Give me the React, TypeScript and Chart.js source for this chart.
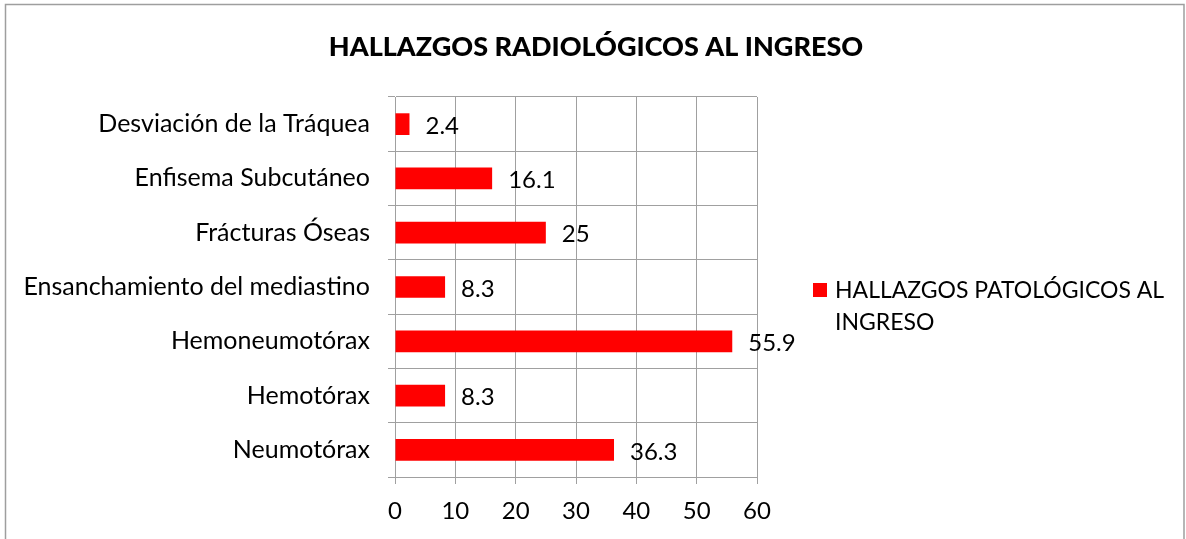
import React, { useEffect, useRef } from "react";
import { Chart, registerables } from "chart.js";

Chart.register(...registerables);

const chartTitle = "HALLAZGOS RADIOLÓGICOS AL INGRESO";
const seriesName = ["HALLAZGOS PATOLÓGICOS AL", "INGRESO"];
const categories = [
  "Desviación de la Tráquea",
  "Enfisema Subcutáneo",
  "Frácturas Óseas",
  "Ensanchamiento del mediastino",
  "Hemoneumotórax",
  "Hemotórax",
  "Neumotórax",
];
const values = [2.4, 16.1, 25, 8.3, 55.9, 8.3, 36.3];
const xMin = 0;
const xMax = 60;
const xStep = 10;

const FONT = "Lato";
const FS = 24;
const BAR_COLOR = "#FF0000";
const GRID = "#A0A0A0";

const decor = {
  id: "decor",
  beforeDraw(chart: any) {
    const ctx = chart.ctx;
    ctx.save();
    ctx.fillStyle = "#fff";
    ctx.fillRect(0, 0, chart.width, chart.height);
    ctx.strokeStyle = "#9E9E9E";
    ctx.lineWidth = 1.5;
    ctx.strokeRect(5.5, 4.5, 1178.5, 600);
    ctx.restore();
  },
  afterDatasetsDraw(chart: any) {
    const ctx = chart.ctx;
    const meta = chart.getDatasetMeta(0);
    ctx.save();
    ctx.fillStyle = "#000";
    ctx.font = `${FS}px ${FONT}`;
    ctx.textAlign = "left";
    ctx.textBaseline = "middle";
    meta.data.forEach((bar: any, i: number) => {
      ctx.fillText(String(values[i]), bar.x + 16, bar.y + 2);
    });
    ctx.restore();
  },
  afterDraw(chart: any) {
    const ctx = chart.ctx;
    ctx.save();
    ctx.fillStyle = "#000";
    ctx.font = `900 27px ${FONT}`;
    ctx.textAlign = "center";
    ctx.textBaseline = "middle";
    ctx.fillText(chartTitle, 596, 47);
    // legend
    ctx.fillStyle = BAR_COLOR;
    ctx.fillRect(813, 283, 14, 14);
    ctx.fillStyle = "#000";
    ctx.font = `23px ${FONT}`;
    ctx.textAlign = "left";
    ctx.fillText(seriesName[0], 835, 291);
    ctx.fillText(seriesName[1], 835, 323);
    ctx.restore();
  },
};

export default function App() {
  const ref = useRef<HTMLCanvasElement | null>(null);
  useEffect(() => {
    if (!ref.current) return;
    const chart = new Chart(ref.current, {
      type: "bar",
      data: {
        labels: categories,
        datasets: [
          {
            label: seriesName.join(" "),
            data: values,
            backgroundColor: BAR_COLOR,
            borderWidth: 0,
            barPercentage: 0.4,
            categoryPercentage: 1,
          },
        ],
      },
      options: {
        indexAxis: "y",
        animation: false,
        responsive: false,
        devicePixelRatio: 1,
        layout: { padding: { top: 97, right: 429, bottom: 0, left: 0 } },
        plugins: {
          legend: { display: false },
          title: { display: false },
          tooltip: { enabled: false },
        },
        scales: {
          x: {
            min: xMin,
            max: xMax,
            ticks: {
              stepSize: xStep,
              color: "#000",
              font: { family: FONT, size: FS },
              padding: 13,
            },
            grid: { color: GRID, lineWidth: 1, tickLength: 7 },
            border: { color: GRID, width: 1 },
            afterFit: (s: any) => {
              s.height = 62;
            },
          },
          y: {
            ticks: {
              color: "#000",
              font: { family: FONT, size: 25 },
              padding: 18,
            },
            grid: { color: GRID, lineWidth: 1, tickLength: 7, offset: true },
            border: { color: GRID, width: 1 },
            afterFit: (s: any) => {
              s.width = 395;
            },
          },
        },
      },
      plugins: [decor],
    });
    return () => chart.destroy();
  }, []);
  return (
    <div style={{ position: "absolute", left: 0, top: 0, width: 1186, height: 539 }}>
      <canvas ref={ref} width={1186} height={539} style={{ display: "block" }} />
    </div>
  );
}
